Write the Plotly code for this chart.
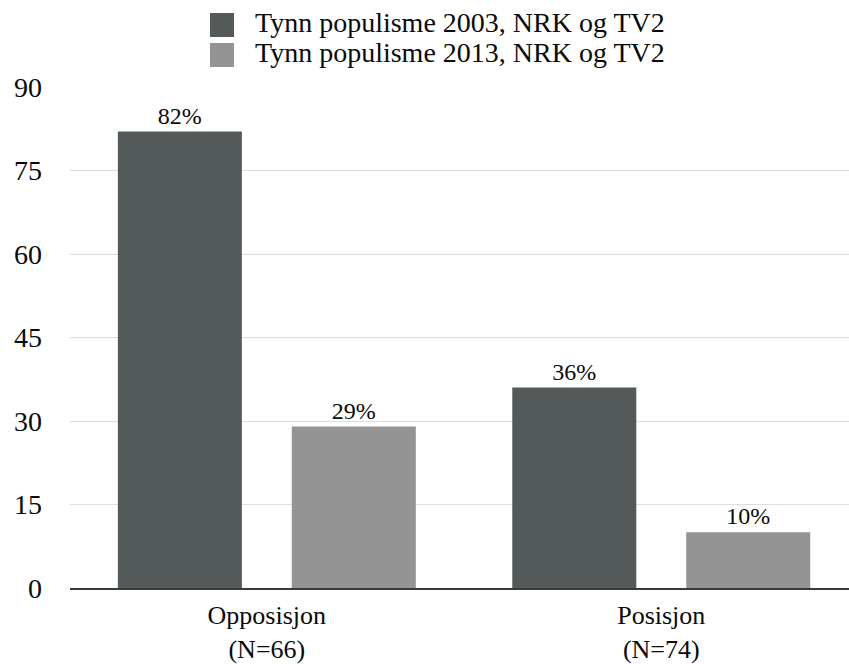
import plotly.graph_objects as go

categories = ["Opposisjon<br>(N=66)", "Posisjon<br>(N=74)"]
series_names = ["Tynn populisme 2003, NRK og TV2", "Tynn populisme 2013, NRK og TV2"]
values_2003 = [82, 36]
values_2013 = [29, 10]
y_ticks = [0, 15, 30, 45, 60, 75, 90]
colors = ["#545a59", "#949494"]

FONT = "'Liberation Serif', 'DejaVu Serif', 'Noto Serif', serif"

W, H = 849, 664
ML, MR, MT, MB = 70, 0, 87, 76
PW, PH = W - ML - MR, H - MT - MB

fig = go.Figure()
for name, vals, col in zip(series_names, [values_2003, values_2013], colors):
    fig.add_trace(go.Bar(
        name=name, x=categories, y=vals,
        marker=dict(color=col, line=dict(width=0)),
        text=[f"{v}%" for v in vals], textposition="outside",
        textfont=dict(family=FONT, size=24, color="#0a0a0a"),
        cliponaxis=False, showlegend=False,
    ))

# custom legend (large square swatches), positions in page pixels
def px_x(p):
    return (p - ML) / PW

def px_y(p):
    return (MT + PH - p) / PH

for i, (name, col) in enumerate(zip(series_names, colors)):
    top = 13 + 30 * i
    fig.add_shape(type="rect", xref="paper", yref="paper",
                  x0=px_x(210), x1=px_x(234), y0=px_y(top + 24), y1=px_y(top),
                  fillcolor=col, line=dict(width=0))
    fig.add_annotation(xref="paper", yref="paper", x=px_x(253), y=px_y(top + 10),
                       xanchor="left", yanchor="middle", showarrow=False,
                       text=name, font=dict(family=FONT, size=28, color="#0a0a0a"))

fig.update_layout(
    width=W, height=H,
    margin=dict(l=ML, r=MR, t=MT, b=MB, pad=0),
    paper_bgcolor="white", plot_bgcolor="white",
    barmode="group", bargap=0.118, bargroupgap=0.287,
    font=dict(family=FONT, size=26, color="#0a0a0a"),
    xaxis=dict(range=[-0.499, 1.476], showgrid=False, showline=True,
               linecolor="#3a3a3a", linewidth=2, ticks="", automargin=False,
               tickfont=dict(family=FONT, size=26, color="#0a0a0a"),
               ticklabelstandoff=3),
    yaxis=dict(range=[0, 90], tickvals=y_ticks, showgrid=True,
               gridcolor="#dedede", gridwidth=1, zeroline=False,
               showline=False, ticks="", automargin=False,
               tickfont=dict(family=FONT, size=28, color="#0a0a0a"),
               ticklabelstandoff=27),
)

fig.write_html("out.html", config={"displayModeBar": False},
               post_script="document.body.style.margin='0px';")
